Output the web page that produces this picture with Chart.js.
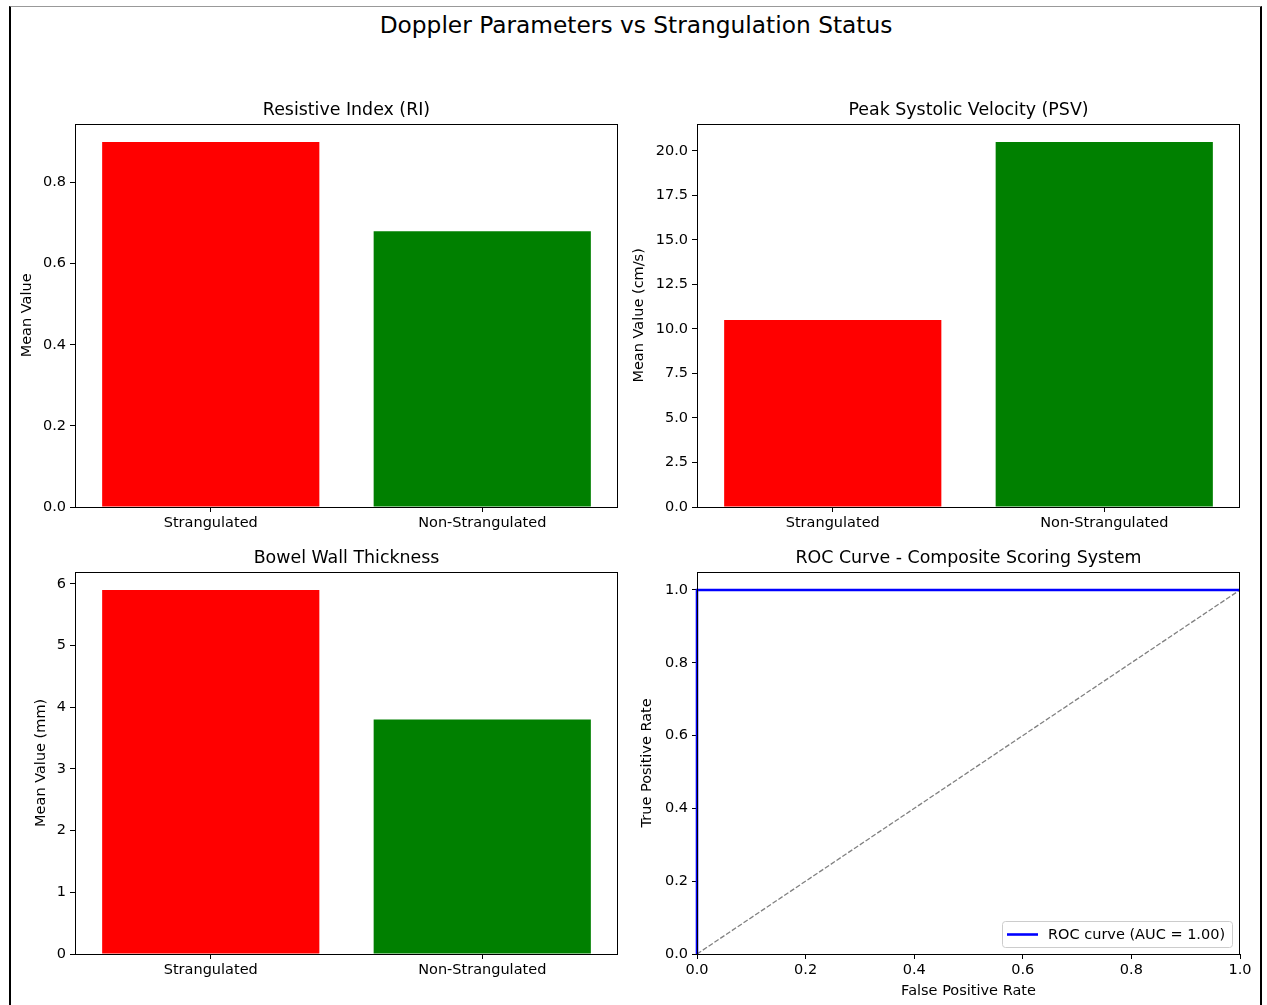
<!DOCTYPE html>
<html>
<head>
<meta charset="utf-8">
<script src="https://cdn.jsdelivr.net/npm/chart.js@4/dist/chart.umd.min.js"></script>
<style>
  html, body { margin: 0; padding: 0; background: #fff; }
  #page { position: relative; width: 1267px; height: 1005px; overflow: hidden; font-family: "DejaVu Sans", sans-serif; }
  #frame { position: absolute; left: 9px; top: 6px; width: 1249px; height: 1010px; border-left: 2px solid #000; border-right: 2px solid #000; border-top: 1px solid #999; }
  #suptitle { position: absolute; left: 0; width: 1272px; top: 10px; line-height: 30px; text-align: center; font-size: 23.3px; color: #000; }
  canvas { position: absolute; }
</style>
</head>
<body>
<div id="page">
  <div id="frame"></div>
  <div id="suptitle">Doppler Parameters vs Strangulation Status</div>
  <canvas id="c1"></canvas>
  <canvas id="c2"></canvas>
  <canvas id="c3"></canvas>
  <canvas id="c4"></canvas>
</div>
<script>
// ---------------- data ----------------
const categories = ['Strangulated', 'Non-Strangulated'];
const barColors = ['#ff0000', '#008000'];
const riMeans = [0.90, 0.68];
const psvMeans = [10.5, 20.5];
const bwtMeans = [5.9, 3.8];
const rocFpr = [0, 0, 1];
const rocTpr = [0, 1, 1];
const chanceFpr = [0, 1];
const chanceTpr = [0, 1];
const rocLabel = 'ROC curve (AUC = 1.00)';

const riTicks = [0.0, 0.2, 0.4, 0.6, 0.8];
const psvTicks = [0.0, 2.5, 5.0, 7.5, 10.0, 12.5, 15.0, 17.5, 20.0];
const bwtTicks = [0, 1, 2, 3, 4, 5, 6];
const rocTicks = [0.0, 0.2, 0.4, 0.6, 0.8, 1.0];

// ---------------- helpers ----------------
const FONT = '"DejaVu Sans", sans-serif';
const TICK = 14.5, TITLE = 17.4;
Chart.defaults.font.family = FONT;
Chart.defaults.color = '#000';
Chart.defaults.animation = false;

const framePlugin = {
  id: 'frame',
  afterDraw(chart) {
    const a = chart.chartArea, ctx = chart.ctx;
    ctx.save();
    ctx.strokeStyle = '#000';
    ctx.lineWidth = 1;
    ctx.strokeRect(Math.round(a.left) + 0.5, Math.round(a.top) + 0.5, Math.round(a.right - a.left) - 1, Math.round(a.bottom - a.top));
    ctx.restore();
  }
};

function place(id, left, top, width, height) {
  const c = document.getElementById(id);
  c.style.left = left + 'px';
  c.style.top = top + 'px';
  c.style.width = width + 'px';
  c.style.height = height + 'px';
  c.width = width; c.height = height;
  return c;
}

function titleOpts(text) {
  return { display: true, fullSize: false, text: text, font: { size: TITLE, weight: 'normal', lineHeight: 1.25 }, color: '#000', padding: { top: 10, bottom: 2 } };
}

function yScale(max, ticks, decimals, title, titlePad, width) {
  return {
    type: 'linear', min: 0, max: max,
    afterBuildTicks(s) { s.ticks = ticks.map(v => ({ value: v })); },
    afterFit(s) { s.width = width; },
    ticks: { callback: v => Number(v).toFixed(decimals), font: { size: TICK }, color: '#000', padding: 4 },
    grid: { drawOnChartArea: false, drawTicks: true, tickLength: 5, color: '#000', tickColor: '#000' },
    border: { display: false },
    title: { display: true, text: title, font: { size: TICK }, color: '#000', padding: { top: titlePad, bottom: 0 } }
  };
}

function barChart(id, left, top, height, values, yMax, ticks, decimals, title, yTitle, yTitlePad) {
  const c = place(id, left, top, 633, height);
  return new Chart(c, {
    type: 'bar',
    data: {
      labels: categories,
      datasets: [{ data: values, backgroundColor: barColors, borderWidth: 0, borderColor: barColors, categoryPercentage: 1.0, barPercentage: 0.8 }]
    },
    options: {
      responsive: false, maintainAspectRatio: false,
      layout: { padding: { left: 0, right: 15, top: 0, bottom: 0 } },
      plugins: {
        legend: { display: false }, tooltip: { enabled: false },
        title: titleOpts(title)
      },
      scales: {
        x: {
          type: 'category', offset: true,
          afterFit(s) { s.height = 30; },
          ticks: { font: { size: TICK }, color: '#000', padding: 3, maxRotation: 0 },
          grid: { offset: false, drawOnChartArea: false, drawTicks: true, tickLength: 5, color: '#000' },
          border: { display: false }
        },
        y: yScale(yMax, ticks, decimals, yTitle, yTitlePad, 75)
      }
    },
    plugins: [framePlugin]
  });
}

barChart('c1', 0, 90, 447, riMeans, 0.945, riTicks, 1, 'Resistive Index (RI)', 'Mean Value', 19);
barChart('c2', 622, 90, 447, psvMeans, 21.525, psvTicks, 1, 'Peak Systolic Velocity (PSV)', 'Mean Value (cm/s)', 9);
barChart('c3', 0, 538, 446, bwtMeans, 6.195, bwtTicks, 0, 'Bowel Wall Thickness', 'Mean Value (mm)', 33);

// ROC legend plugin (lower right, matplotlib-like)
const rocLegend = {
  id: 'rocLegend',
  afterDraw(chart) {
    const ds = chart.data.datasets[0];
    const a = chart.chartArea, ctx = chart.ctx;
    ctx.save();
    ctx.font = TICK + 'px ' + FONT;
    const w = 230, h = 26;
    const x = Math.round(a.right) - 8 - w, y = Math.round(a.bottom) - 7 - h;
    ctx.fillStyle = 'rgba(255,255,255,0.8)';
    ctx.strokeStyle = '#cccccc';
    ctx.lineWidth = 1;
    ctx.beginPath();
    ctx.roundRect(x + 0.5, y + 0.5, w, h, 3);
    ctx.fill(); ctx.stroke();
    ctx.strokeStyle = ds.borderColor;
    ctx.lineWidth = ds.borderWidth;
    ctx.beginPath();
    ctx.moveTo(x + 5, y + h / 2 + 0.5);
    ctx.lineTo(x + 36, y + h / 2 + 0.5);
    ctx.stroke();
    ctx.fillStyle = '#000';
    ctx.textBaseline = 'middle';
    ctx.fillText(ds.label, x + 46, y + h / 2 + 1);
    ctx.restore();
  }
};

const c4 = place('c4', 622, 538, 633, 464);
new Chart(c4, {
  type: 'line',
  data: {
    datasets: [
      { label: rocLabel, data: rocFpr.map((v, i) => ({ x: v, y: rocTpr[i] })), borderColor: '#0000ff', borderWidth: 2.6, pointRadius: 0, fill: false, tension: 0, clip: 2 },
      { label: 'chance', data: chanceFpr.map((v, i) => ({ x: v, y: chanceTpr[i] })), borderColor: '#808080', borderWidth: 1.3, borderDash: [5, 2], pointRadius: 0, fill: false, tension: 0 }
    ]
  },
  options: {
    responsive: false, maintainAspectRatio: false,
    layout: { padding: { left: 0, right: 15, top: 0, bottom: 0 } },
    plugins: {
      legend: { display: false }, tooltip: { enabled: false },
      title: titleOpts('ROC Curve - Composite Scoring System')
    },
    scales: {
      x: {
        type: 'linear', min: 0, max: 1,
        afterBuildTicks(s) { s.ticks = rocTicks.map(v => ({ value: v })); },
        afterFit(s) { s.height = 48; },
        ticks: { callback: v => Number(v).toFixed(1), font: { size: TICK }, color: '#000', padding: 3, maxRotation: 0 },
        grid: { drawOnChartArea: false, drawTicks: true, tickLength: 5, color: '#000' },
        border: { display: false },
        title: { display: true, text: 'False Positive Rate', font: { size: TICK }, color: '#000', padding: { top: 0, bottom: 2 } }
      },
      y: yScale(1.05, rocTicks, 1, 'True Positive Rate', 17, 75)
    }
  },
  plugins: [framePlugin, rocLegend]
});
</script>
</body>
</html>
